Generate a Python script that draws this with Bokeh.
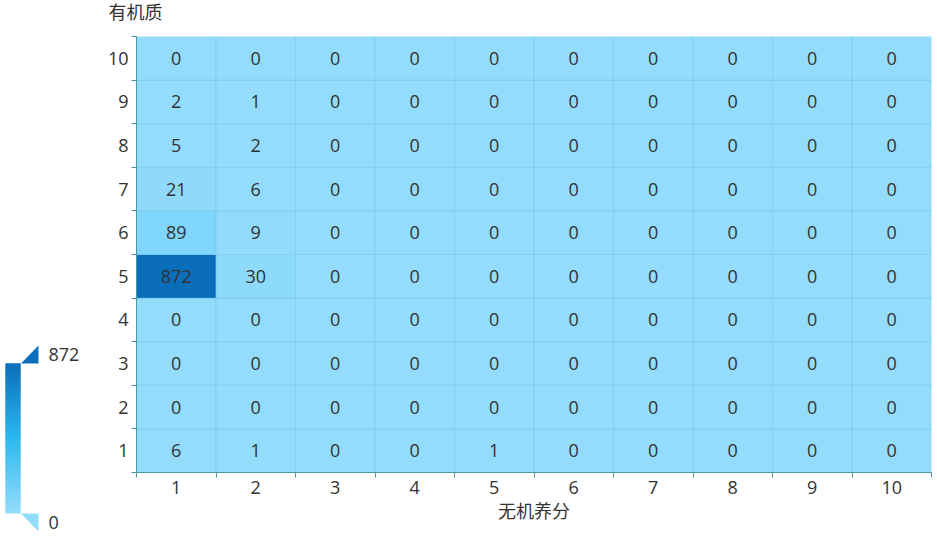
import numpy as np
from bokeh.plotting import figure
from bokeh.layouts import row, column
from bokeh.models import ColumnDataSource, Range1d, FixedTicker, LinearColorMapper, Title
from bokeh.core.properties import value
from bokeh.embed import file_html
from bokeh.resources import INLINE

# ---- data ----
x_labels = ["1", "2", "3", "4", "5", "6", "7", "8", "9", "10"]   # 无机养分
y_labels = ["1", "2", "3", "4", "5", "6", "7", "8", "9", "10"]   # 有机质
row_1 = [6, 1, 0, 0, 1, 0, 0, 0, 0, 0]
row_2 = [0, 0, 0, 0, 0, 0, 0, 0, 0, 0]
row_3 = [0, 0, 0, 0, 0, 0, 0, 0, 0, 0]
row_4 = [0, 0, 0, 0, 0, 0, 0, 0, 0, 0]
row_5 = [872, 30, 0, 0, 0, 0, 0, 0, 0, 0]
row_6 = [89, 9, 0, 0, 0, 0, 0, 0, 0, 0]
row_7 = [21, 6, 0, 0, 0, 0, 0, 0, 0, 0]
row_8 = [5, 2, 0, 0, 0, 0, 0, 0, 0, 0]
row_9 = [2, 1, 0, 0, 0, 0, 0, 0, 0, 0]
row_10 = [0, 0, 0, 0, 0, 0, 0, 0, 0, 0]
rows = [row_1, row_2, row_3, row_4, row_5, row_6, row_7, row_8, row_9, row_10]
x_name = "无机养分"
y_name = "有机质"

# ---- palette ----
stop_pos = [0.0, 0.5, 1.0]
stop_col = ["#94DCFC", "#2BB9F0", "#0A6EBB"]


def hex2rgb(h):
    h = h.lstrip("#")
    return [int(h[i:i + 2], 16) for i in (0, 2, 4)]


rgb = np.array([hex2rgb(c) for c in stop_col], dtype=float)
t = np.linspace(0, 1, 256)
pal = []
for tt in t:
    r = np.interp(tt, stop_pos, rgb[:, 0])
    g = np.interp(tt, stop_pos, rgb[:, 1])
    b = np.interp(tt, stop_pos, rgb[:, 2])
    pal.append("#%02x%02x%02x" % (int(round(r)), int(round(g)), int(round(b))))

vmin = min(min(r) for r in rows)
vmax = max(max(r) for r in rows)
mapper = LinearColorMapper(palette=pal, low=vmin, high=vmax)

xs, ys, vs = [], [], []
for yi, r in enumerate(rows):
    for xi, v in enumerate(r):
        xs.append(xi + 1)
        ys.append(yi + 1)
        vs.append(v)
src = ColumnDataSource(dict(x=xs, y=ys, v=vs, t=[str(v) for v in vs]))

DIGIT_FONT = "Open Sans"
CJK_FONT = "Noto Sans CJK SC"
TXT = "#333333"
AX = "#4f96a4"

# ---- heatmap ----
n = len(x_labels)
p = figure(width=837, height=537, x_range=Range1d(0.5, n + 0.5), y_range=Range1d(0.5, len(y_labels) + 0.5),
           output_backend="svg", toolbar_location=None,
           min_border_left=36, min_border_right=6, min_border_top=36, min_border_bottom=65)
p.outline_line_color = None
p.grid.grid_line_color = None
p.background_fill_color = "white"

p.rect(x="x", y="y", width=1, height=1, source=src,
       fill_color={"field": "v", "transform": mapper},
       line_color="#6cc3e6", line_alpha=0.45, line_width=1)
p.text(x="x", y="y", text="t", source=src, text_align="center", text_baseline="middle",
       text_font=value(DIGIT_FONT), text_font_size="18px", text_color=TXT)

centers = list(range(1, n + 1))
bounds = [i + 0.5 for i in range(0, n + 1)]
for ax, labs in ((p.xaxis[0], x_labels), (p.yaxis[0], y_labels)):
    ax.ticker = FixedTicker(ticks=centers, minor_ticks=bounds)
    ax.major_label_overrides = {c: l for c, l in zip(centers, labs)}
    ax.major_tick_line_color = None
    ax.major_tick_out = 5
    ax.major_tick_in = 0
    ax.minor_tick_line_color = AX
    ax.minor_tick_out = 5
    ax.minor_tick_in = 0
    ax.axis_line_color = AX
    ax.major_label_text_font = DIGIT_FONT
    ax.major_label_text_font_size = "18px"
    ax.major_label_text_color = TXT
    ax.major_label_standoff = 3

p.xaxis.axis_label = x_name
p.xaxis.axis_label_text_font = CJK_FONT
p.xaxis.axis_label_text_font_size = "18px"
p.xaxis.axis_label_text_font_style = "normal"
p.xaxis.axis_label_text_color = TXT
p.xaxis.axis_label_standoff = 0

# y-axis name placed above the plot, at the top-left like the reference
p.title.text = y_name
p.title.align = "left"
p.title.vertical_align = "top"
p.title.offset = -28
p.title.text_font = "Lato, Noto Sans CJK SC"
p.title.text_font_size = "18px"
p.title.text_font_style = "normal"
p.title.text_color = TXT
p.title.standoff = 0
# small blank gap between the axis name and the plot area
p.add_layout(Title(text=" ", text_font="Lato", text_font_size="2px", standoff=8), "above")

# ---- visual map legend (pixel space) ----
lg = figure(width=100, height=537, x_range=Range1d(0, 100), y_range=Range1d(537, 0),
            output_backend="svg", toolbar_location=None, min_border=0,
            min_border_top=0, min_border_bottom=0, min_border_left=0, min_border_right=0,
            x_axis_location=None, y_axis_location=None)
lg.outline_line_color = None
lg.grid.grid_line_color = None

bar_top, bar_bot, bar_l, bar_r = 363, 513, 5, 20
steps = 150
step = (bar_bot - bar_top) / steps
vals = np.linspace(vmin, vmax, steps)
bottoms = [bar_bot - i * step for i in range(steps)]
tops = [max(bar_top, b - step - 1) for b in bottoms]
gsrc = ColumnDataSource(dict(v=vals, b=bottoms, t=tops))
lg.quad(left=bar_l, right=bar_r, bottom="b", top="t", source=gsrc,
        fill_color={"field": "v", "transform": mapper}, line_color=None)

lg.patches(xs=[[bar_r + 0.5, bar_r + 18, bar_r + 18], [bar_r + 0.5, bar_r + 18, bar_r + 18]],
           ys=[[bar_top, bar_top - 18, bar_top], [bar_bot, bar_bot, bar_bot + 18]],
           fill_color=[pal[-1], pal[0]], line_color=None)
lg.text(x=[48, 48], y=[bar_top - 9, bar_bot + 9], text=[str(vmax), str(vmin)],
        text_align="left", text_baseline="middle", text_font=value(DIGIT_FONT),
        text_font_size="18px", text_color=TXT)

layout = row(column(lg), column(p))
open("out.html", "w").write(file_html(layout, INLINE))
